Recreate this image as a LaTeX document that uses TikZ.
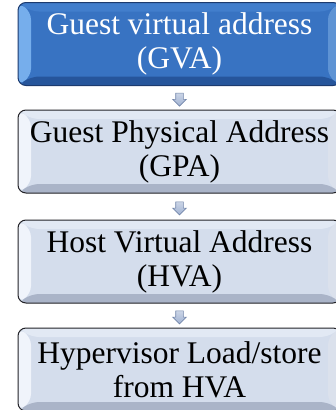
\documentclass[tikz,border=0pt]{standalone}
\usepackage{fontspec}
\setmainfont{Liberation Serif}
\newfontfamily\boxfont{Liberation Serif}
\usetikzlibrary{shapes.arrows,calc}

% face, side bevels, top bevel, bottom bevel, outline
\definecolor{gvaface}{RGB}{56,115,194}
\definecolor{gvaside}{RGB}{118,174,236}
\definecolor{gvatop}{RGB}{66,126,204}
\definecolor{gvabottom}{RGB}{38,85,155}
\definecolor{gvaedge}{RGB}{28,58,110}
\definecolor{stepface}{RGB}{212,221,236}
\definecolor{stepside}{RGB}{240,244,251}
\definecolor{steptop}{RGB}{226,233,244}
\definecolor{stepbottom}{RGB}{170,180,200}
\definecolor{stepedge}{RGB}{35,35,40}
\definecolor{arrowfill}{RGB}{160,178,210}
\definecolor{arrowedge}{RGB}{115,134,170}

\tikzset{
  bevelbox/.style n args={5}{
    rounded corners=8pt, minimum width=323pt, minimum height=83pt,
    inner sep=0pt, align=center, font=\boxfont\fontsize{31.5}{34}\selectfont,
    fill=#1, draw=#5, line width=1pt,
    path picture={
      \coordinate (pnw) at (path picture bounding box.north west);
      \coordinate (pse) at (path picture bounding box.south east);
      \coordinate (pne) at (pse|-pnw);
      \coordinate (psw) at (pnw|-pse);
      \fill[#3] (pnw) -- (pne) -- ($(pne)+(-13pt,-9pt)$) -- ($(pnw)+(13pt,-9pt)$) -- cycle;
      \fill[#2] (pnw) -- ($(pnw)+(13pt,-9pt)$) -- ($(psw)+(13pt,9pt)$) -- (psw) -- cycle;
      \fill[#2!70!#4] (pne) -- ($(pne)+(-13pt,-9pt)$) -- ($(pse)+(-13pt,9pt)$) -- (pse) -- cycle;
      \fill[#4] (psw) -- ($(psw)+(13pt,9pt)$) -- ($(pse)+(-13pt,9pt)$) -- (pse) -- cycle;
    }
  },
  gvabox/.style={bevelbox={gvaface}{gvaside}{gvatop}{gvabottom}{gvaedge}, text=white},
  stepbox/.style={bevelbox={stepface}{stepside}{steptop}{stepbottom}{stepedge}, text=black},
  downarrow/.style={single arrow, shape border rotate=270,
    inner sep=3.5pt, minimum height=13pt, single arrow head extend=3pt,
    top color=arrowfill!55!white, bottom color=arrowfill, draw=arrowedge, line width=0.6pt}
}

\begin{document}
\begin{tikzpicture}
\useasboundingbox (0,0) rectangle (335pt,-410pt);

\node[gvabox]  (gva) at (179.5pt,-44pt)    {Guest virtual address\\(GVA)};
\node[stepbox] (gpa) at (179.5pt,-151.5pt) {Guest Physical Address\\(GPA)};
\node[stepbox] (hva) at (179.5pt,-261.5pt) {Host Virtual Address\\(HVA)};
\node[stepbox] (ls)  at (179.5pt,-369.5pt) {Hypervisor Load/store\\from HVA};

\node[downarrow] (a1) at ($(gva.south)!0.5!(gpa.north)$) {};
\node[downarrow] (a2) at ($(gpa.south)!0.5!(hva.north)$) {};
\node[downarrow] (a3) at ($(hva.south)!0.5!(ls.north)$) {};
\end{tikzpicture}
\end{document}
